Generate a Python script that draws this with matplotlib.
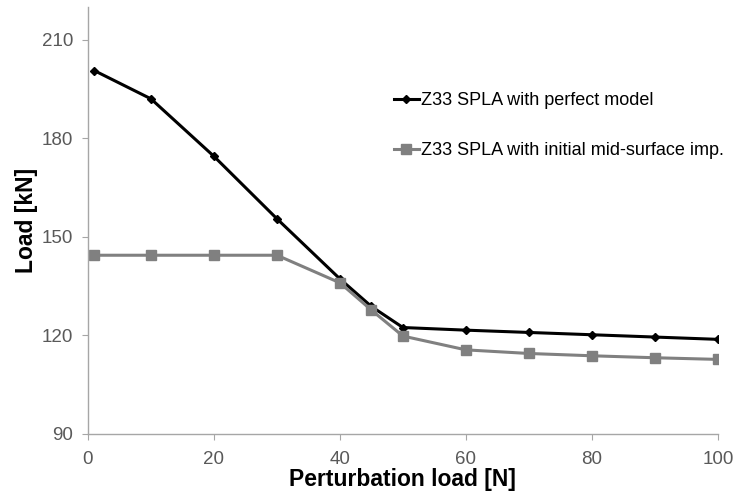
import matplotlib.pyplot as plt

plt.rcParams['font.family'] = ['Liberation Sans', 'DejaVu Sans']

# perturbation load [N]
load_x = [1, 10, 20, 30, 40, 45, 50, 60, 70, 80, 90, 100]
# buckling load [kN]
perfect = [200.6, 192.0, 174.5, 155.5, 137.2, 128.8, 122.4, 121.6, 120.9, 120.2, 119.5, 118.8]
imperfect = [144.4, 144.4, 144.4, 144.4, 136.0, 127.7, 119.8, 115.6, 114.5, 113.8, 113.2, 112.7]

labels = ['Z33 SPLA with perfect model', 'Z33 SPLA with initial mid-surface imp.']
x_ticks = [0, 20, 40, 60, 80, 100]
y_ticks = [90, 120, 150, 180, 210]

fig = plt.figure(figsize=(7.35, 4.99), dpi=100)
ax = fig.add_axes([0.1197, 0.1303, 0.857, 0.856])

ax.plot(load_x, perfect, color='black', lw=2.2, marker='D', markersize=4.5, label=labels[0])
ax.plot(load_x, imperfect, color='#808080', lw=2.2, marker='s', markersize=6.5, label=labels[1])

ax.set_xlim(0, 100)
ax.set_ylim(90, 220)
ax.set_xticks(x_ticks)
ax.set_yticks(y_ticks)

for s in ['top', 'right']:
    ax.spines[s].set_visible(False)
for s in ['left', 'bottom']:
    ax.spines[s].set_color('#a6a6a6')
    ax.spines[s].set_linewidth(1.0)
ax.tick_params(colors='#a6a6a6', labelcolor='#595959', labelsize=13.5, length=4, direction='out')
ax.tick_params(axis='x', pad=8)
ax.tick_params(axis='y', pad=6.5)

ax.set_xlabel('Perturbation load [N]', fontsize=16.5, fontweight='bold', labelpad=0)
ax.set_ylabel('Load [kN]', fontsize=16.5, fontweight='bold', labelpad=3)

ax.legend(loc='upper left', bbox_to_anchor=(0.526, 0.83), bbox_transform=fig.transFigure,
          frameon=False, fontsize=13, handlelength=1.4, handletextpad=0.1,
          labelspacing=1.85, borderaxespad=0)

fig.savefig('out.png', dpi=100)
